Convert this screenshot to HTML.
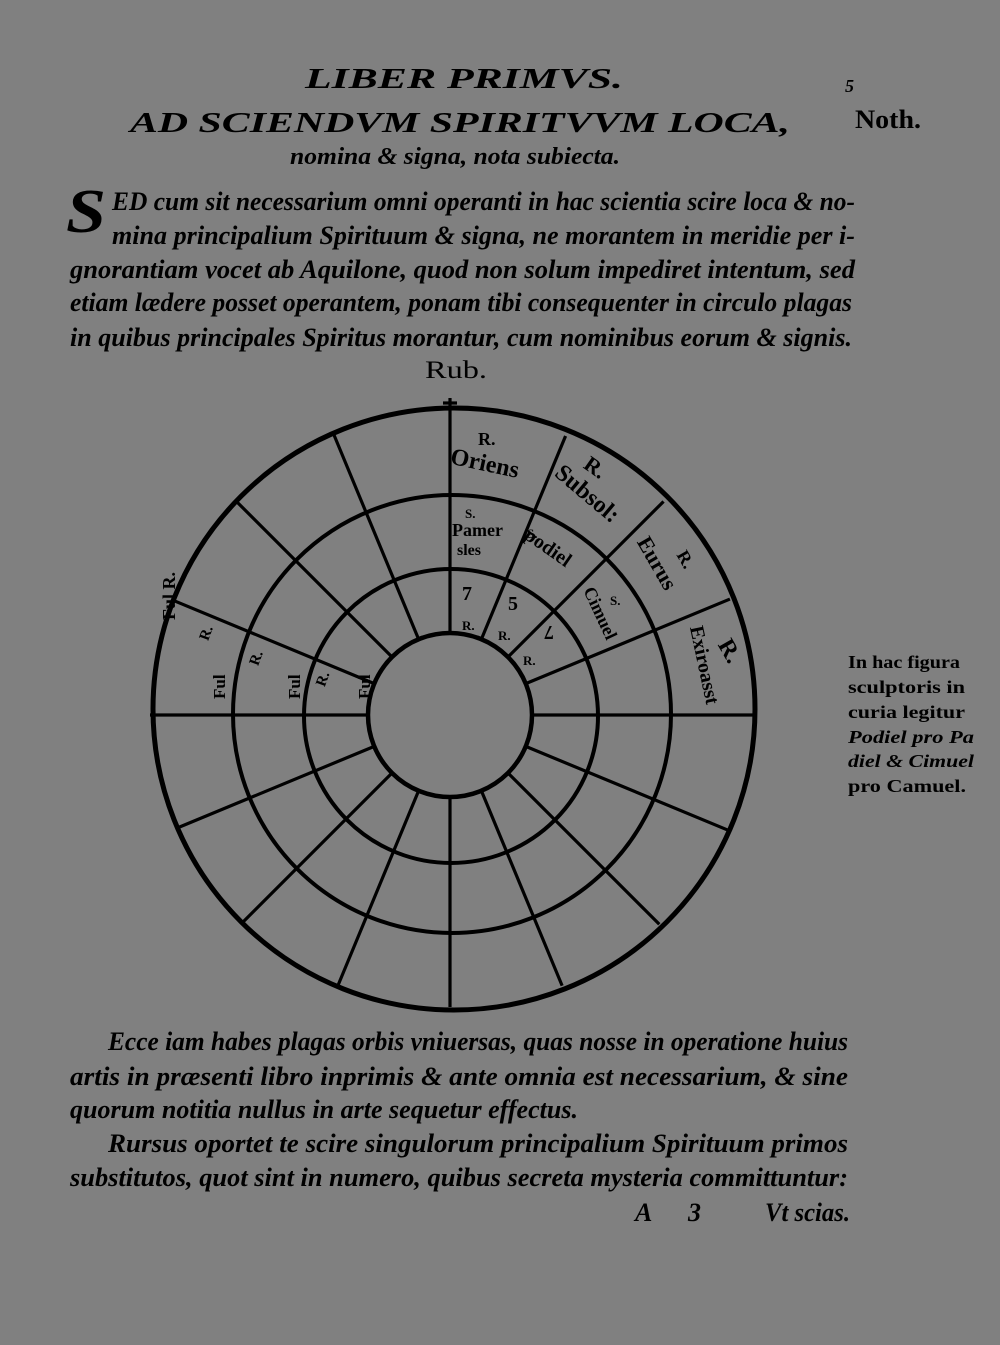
<!DOCTYPE html>
<html><head><meta charset="utf-8"><style>
html,body{margin:0;padding:0;background:#808080;}
svg{display:block;}
text{font-family:"Liberation Serif",serif;fill:#000;}
.it{font-style:italic;font-weight:bold;}
</style></head><body>
<svg width="1000" height="1345" viewBox="0 0 1000 1345" xmlns="http://www.w3.org/2000/svg">
<rect width="1000" height="1345" fill="#808080"/>
<text class="it" x="305" y="88" font-size="28" textLength="318" lengthAdjust="spacingAndGlyphs">LIBER  PRIMVS.</text>
<text class="it" x="845" y="92" font-size="18">5</text>
<text x="855" y="128" font-size="26" font-weight="bold" textLength="66" lengthAdjust="spacingAndGlyphs">Noth.</text>
<text class="it" x="130" y="132" font-size="29" textLength="660" lengthAdjust="spacingAndGlyphs">AD SCIENDVM SPIRITVVM LOCA,</text>
<text class="it" x="290" y="164" font-size="24" textLength="330" lengthAdjust="spacingAndGlyphs">nomina &amp; signa, nota subiecta.</text>
<text class="it" x="66" y="232" font-size="62" textLength="40" lengthAdjust="spacingAndGlyphs">S</text>
<g class="it" font-size="26">
<text x="112" y="210" textLength="743" lengthAdjust="spacingAndGlyphs">ED cum sit necessarium omni operanti in hac scientia scire loca &amp; no-</text>
<text x="112" y="244" textLength="743" lengthAdjust="spacingAndGlyphs">mina principalium Spirituum &amp; signa, ne morantem in meridie per i-</text>
<text x="70" y="278" textLength="785" lengthAdjust="spacingAndGlyphs">gnorantiam vocet ab Aquilone, quod non solum impediret intentum, sed</text>
<text x="70" y="311" textLength="782" lengthAdjust="spacingAndGlyphs">etiam lædere posset operantem, ponam tibi consequenter in circulo plagas</text>
<text x="70" y="346" textLength="782" lengthAdjust="spacingAndGlyphs">in quibus principales Spiritus morantur, cum nominibus eorum &amp; signis.</text>
</g>
<text x="425" y="378" font-size="25" textLength="62" lengthAdjust="spacingAndGlyphs">Rub.</text>
<g fill="none" stroke="#000">
<circle cx="454" cy="709" r="301" stroke-width="5"/>
<circle cx="452" cy="714" r="219" stroke-width="4"/>
<circle cx="451" cy="716" r="147" stroke-width="4"/>
<circle cx="450" cy="715" r="82" stroke-width="4.5"/>
<g stroke-width="3.2">
<line x1="450" y1="633" x2="450" y2="398"/>
<line x1="450" y1="633" x2="450" y2="413" transform="rotate(22.5 450 715)"/>
<line x1="450" y1="633" x2="450" y2="413" transform="rotate(45 450 715)"/>
<line x1="450" y1="633" x2="450" y2="412" transform="rotate(67.5 450 715)"/>
<line x1="450" y1="633" x2="450" y2="411" transform="rotate(90 450 715)"/>
<line x1="450" y1="633" x2="450" y2="415" transform="rotate(112.5 450 715)"/>
<line x1="450" y1="633" x2="450" y2="419" transform="rotate(135 450 715)"/>
<line x1="450" y1="633" x2="450" y2="422" transform="rotate(157.5 450 715)"/>
<line x1="450" y1="633" x2="450" y2="423" transform="rotate(180 450 715)"/>
<line x1="450" y1="633" x2="450" y2="422" transform="rotate(202.5 450 715)"/>
<line x1="450" y1="633" x2="450" y2="420" transform="rotate(225 450 715)"/>
<line x1="450" y1="633" x2="450" y2="421" transform="rotate(247.5 450 715)"/>
<line x1="450" y1="633" x2="450" y2="415" transform="rotate(270 450 715)"/>
<line x1="450" y1="633" x2="450" y2="413" transform="rotate(292.5 450 715)"/>
<line x1="450" y1="633" x2="450" y2="412" transform="rotate(315 450 715)"/>
<line x1="450" y1="633" x2="450" y2="412" transform="rotate(337.5 450 715)"/>
<line x1="443" y1="403" x2="457" y2="403"/>
</g>
</g>
<g font-weight="bold">
<text x="478" y="445" font-size="18">R.</text>
<text x="450" y="472" font-size="24" transform="rotate(12 490 465)">Oriens</text>
<text x="583" y="475" font-size="22" transform="rotate(35 595 470)">R.</text>
<text x="548" y="500" font-size="24" transform="rotate(40 585 495)">Subsol:</text>
<text x="465" y="518" font-size="13">S.</text>
<text x="452" y="536" font-size="18">Pamer</text>
<text x="457" y="555" font-size="16">sles</text>
<text x="527" y="538" font-size="13">S.</text>
<text x="522" y="555" font-size="20" transform="rotate(35 550 548)">podiel</text>
<text x="630" y="567" font-size="22" transform="rotate(60 655 560)">Eurus</text>
<text x="676" y="565" font-size="18" transform="rotate(60 685 560)">R.</text>
<text x="575" y="617" font-size="18" transform="rotate(65 600 610)">Cimuel</text>
<text x="610" y="605" font-size="13">S.</text>
<text x="670" y="668" font-size="20" transform="rotate(78 705 660)">Exiroasst</text>
<text x="720" y="660" font-size="24" transform="rotate(60 732 650)">R.</text>
<text x="462" y="600" font-size="20">7</text>
<text x="462" y="630" font-size="13">R.</text>
<text x="508" y="610" font-size="20">5</text>
<text x="498" y="640" font-size="13">R.</text>
<text x="542" y="638" font-size="20" transform="rotate(180 548 632)">7</text>
<text x="523" y="665" font-size="13">R.</text>
<text x="165" y="640" font-size="18" transform="rotate(-90 160 625)">Ful R.</text>
<text x="200" y="640" font-size="15" transform="rotate(-70 205 635)">R.</text>
<text x="205" y="705" font-size="17" transform="rotate(-90 212 692)">Ful</text>
<text x="250" y="665" font-size="15" transform="rotate(-70 255 660)">R.</text>
<text x="280" y="705" font-size="17" transform="rotate(-90 287 692)">Ful</text>
<text x="316" y="685" font-size="15" transform="rotate(-70 322 680)">R.</text>
<text x="350" y="705" font-size="17" transform="rotate(-90 357 692)">Ful</text>
</g>
<g font-weight="bold" font-size="18">
<text x="848" y="668" textLength="112" lengthAdjust="spacingAndGlyphs">In hac figura</text>
<text x="848" y="693" textLength="117" lengthAdjust="spacingAndGlyphs">sculptoris in</text>
<text x="848" y="718" textLength="117" lengthAdjust="spacingAndGlyphs">curia legitur</text>
<text x="848" y="743" textLength="126" lengthAdjust="spacingAndGlyphs" font-style="italic">Podiel pro Pa</text>
<text x="848" y="767" textLength="126" lengthAdjust="spacingAndGlyphs" font-style="italic">diel &amp; Cimuel</text>
<text x="848" y="792" textLength="118" lengthAdjust="spacingAndGlyphs">pro  Camuel.</text>
</g>
<g class="it" font-size="26">
<text x="108" y="1050" textLength="740" lengthAdjust="spacingAndGlyphs">Ecce iam habes plagas orbis vniuersas, quas nosse in operatione huius</text>
<text x="70" y="1085" textLength="778" lengthAdjust="spacingAndGlyphs">artis  in præsenti libro inprimis &amp; ante omnia est necessarium, &amp; sine</text>
<text x="70" y="1118" textLength="508" lengthAdjust="spacingAndGlyphs">quorum notitia nullus in arte sequetur effectus.</text>
<text x="108" y="1152" textLength="740" lengthAdjust="spacingAndGlyphs">Rursus oportet te scire singulorum principalium Spirituum primos</text>
<text x="70" y="1186" textLength="778" lengthAdjust="spacingAndGlyphs">substitutos, quot sint in numero, quibus secreta mysteria committuntur:</text>
<text x="635" y="1221">A</text>
<text x="688" y="1221">3</text>
<text x="765" y="1221" textLength="85" lengthAdjust="spacingAndGlyphs">Vt scias.</text>
</g>
</svg>
</body></html>
